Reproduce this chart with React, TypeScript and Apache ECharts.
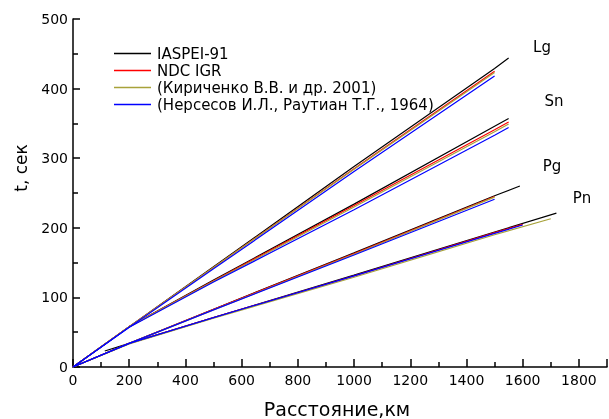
import React, { useEffect, useRef } from "react";
import * as echarts from "echarts";

const FONT = "DejaVu Sans";

const modelNames = [
  "IASPEI-91",
  "NDC IGR",
  "(Кириченко В.В. и др. 2001)",
  "(Нерсесов И.Л., Раутиан Т.Г., 1964)",
];
const modelColors = ["#000000", "#ff0000", "#a8a23a", "#0000ff"];

const phaseLabels = ["Lg", "Sn", "Pg", "Pn"];

// [distance km, time s]
const iaspeiLg = [[0, 0], [200, 58], [500, 144], [1000, 288], [1500, 429], [1550, 444]];
const ndcLg = [[0, 0], [200, 58], [500, 143], [1000, 285], [1500, 425]];
const kirLg = [[0, 0], [200, 58], [500, 143], [1000, 284], [1500, 423]];
const nerLg = [[0, 0], [200, 57], [500, 141], [1000, 281], [1500, 418]];

const iaspeiSn = [[0, 0], [200, 58], [500, 125], [1000, 234], [1500, 346], [1550, 357]];
const ndcSn = [[0, 0], [200, 58], [500, 124], [1000, 232], [1500, 341], [1550, 352]];
const kirSn = [[0, 0], [200, 58], [500, 123], [1000, 230], [1500, 338], [1550, 349]];
const nerSn = [[0, 0], [200, 57], [500, 122], [1000, 226], [1500, 333], [1550, 344]];

const iaspeiPg = [[0, 0], [200, 34], [500, 83], [1000, 164], [1500, 246], [1590, 260]];
const ndcPg = [[0, 0], [200, 34], [500, 83], [1000, 163], [1500, 245]];
const kirPg = [[0, 0], [200, 34], [500, 82], [1000, 162], [1500, 244]];
const nerPg = [[0, 0], [200, 34], [500, 82], [1000, 161], [1500, 241]];

const iaspeiPn = [[113, 23], [200, 34], [500, 71], [1000, 132], [1500, 194], [1720, 221]];
const ndcPn = [[0, 0], [200, 34], [500, 71], [1000, 131], [1500, 193], [1600, 205]];
const kirPn = [[0, 0], [200, 33], [500, 70], [1000, 129], [1500, 190], [1700, 213]];
const nerPn = [[0, 0], [200, 34], [500, 71], [1000, 131], [1500, 192], [1600, 204]];

const modelData = [
  [iaspeiLg, iaspeiSn, iaspeiPg, iaspeiPn],
  [ndcLg, ndcSn, ndcPg, ndcPn],
  [kirLg, kirSn, kirPg, kirPn],
  [nerLg, nerSn, nerPg, nerPn],
];

const xTitle = "Расстояние,км";
const yTitle = "t, сек";

export default function App() {
  const ref = useRef<HTMLDivElement>(null);

  useEffect(() => {
    if (!ref.current) return;
    const chart = echarts.init(ref.current, null, { renderer: "svg" });

    const series: any[] = [];
    modelData.forEach((phases, mi) => {
      phases.forEach((data, pi) => {
        series.push({
          type: "line",
          name: modelNames[mi],
          id: modelNames[mi] + "-" + phaseLabels[pi],
          data,
          symbol: "none",
          smooth: false,
          lineStyle: { color: modelColors[mi], width: 1.2 },
          itemStyle: { color: modelColors[mi] },
        });
      });
    });

    const labelPos = [
      [542, 47],
      [554, 101],
      [552, 166],
      [582, 198],
    ];

    chart.setOption({
      animation: false,
      grid: { left: 73, top: 19, right: 2, bottom: 52 },
      legend: {
        data: modelNames,
        orient: "vertical",
        left: 109,
        top: 41,
        itemWidth: 37,
        itemHeight: 14,
        itemGap: 2,
        icon: "path://M0,0 L37,0 L37,1.5 L0,1.5 Z",
        textStyle: { fontFamily: FONT, fontSize: 15, color: "#000", padding: [0, 0, 0, 1] },
        selectedMode: false,
      },
      xAxis: {
        type: "value",
        min: 0,
        max: 1900,
        interval: 200,
        axisLine: { show: true, lineStyle: { color: "#000", width: 1.5 } },
        axisTick: { show: true, inside: true, length: 8, lineStyle: { color: "#000", width: 1.5 } },
        minorTick: { show: true, splitNumber: 2, length: 5, lineStyle: { color: "#000", width: 1.5 } },
        splitLine: { show: false },
        axisLabel: {
          fontFamily: FONT,
          fontSize: 14,
          color: "#000",
          margin: 6,
          showMaxLabel: false,
          formatter: (v: number) => String(v),
        },
      },
      yAxis: {
        type: "value",
        min: 0,
        max: 500,
        interval: 100,
        axisLine: { show: true, lineStyle: { color: "#000", width: 1.5 } },
        axisTick: { show: true, inside: true, length: 7, lineStyle: { color: "#000", width: 1.5 } },
        minorTick: { show: true, splitNumber: 2, length: 5, lineStyle: { color: "#000", width: 1.5 } },
        splitLine: { show: false },
        axisLabel: {
          fontFamily: FONT,
          fontSize: 14,
          color: "#000",
          margin: 5,
          formatter: (v: number) => String(v),
        },
      },
      graphic: [
        ...phaseLabels.map((t, i) => ({
          type: "text",
          x: labelPos[i][0],
          y: labelPos[i][1],
          style: {
            text: t,
            fontFamily: FONT,
            fontSize: 15,
            fill: "#000",
            textAlign: "center",
            textVerticalAlign: "middle",
          },
        })),
        {
          type: "text",
          x: 337,
          y: 409,
          style: {
            text: xTitle,
            fontFamily: FONT,
            fontSize: 19,
            fill: "#000",
            textAlign: "center",
            textVerticalAlign: "middle",
          },
        },
        {
          type: "text",
          x: 21,
          y: 168,
          rotation: Math.PI / 2,
          style: {
            text: yTitle,
            fontFamily: FONT,
            fontSize: 17,
            fill: "#000",
            textAlign: "center",
            textVerticalAlign: "middle",
          },
        },
      ],
      series,
    });

    return () => chart.dispose();
  }, []);

  return (
    <div
      ref={ref}
      style={{ position: "fixed", left: 0, top: 0, width: 609, height: 419 }}
    />
  );
}
